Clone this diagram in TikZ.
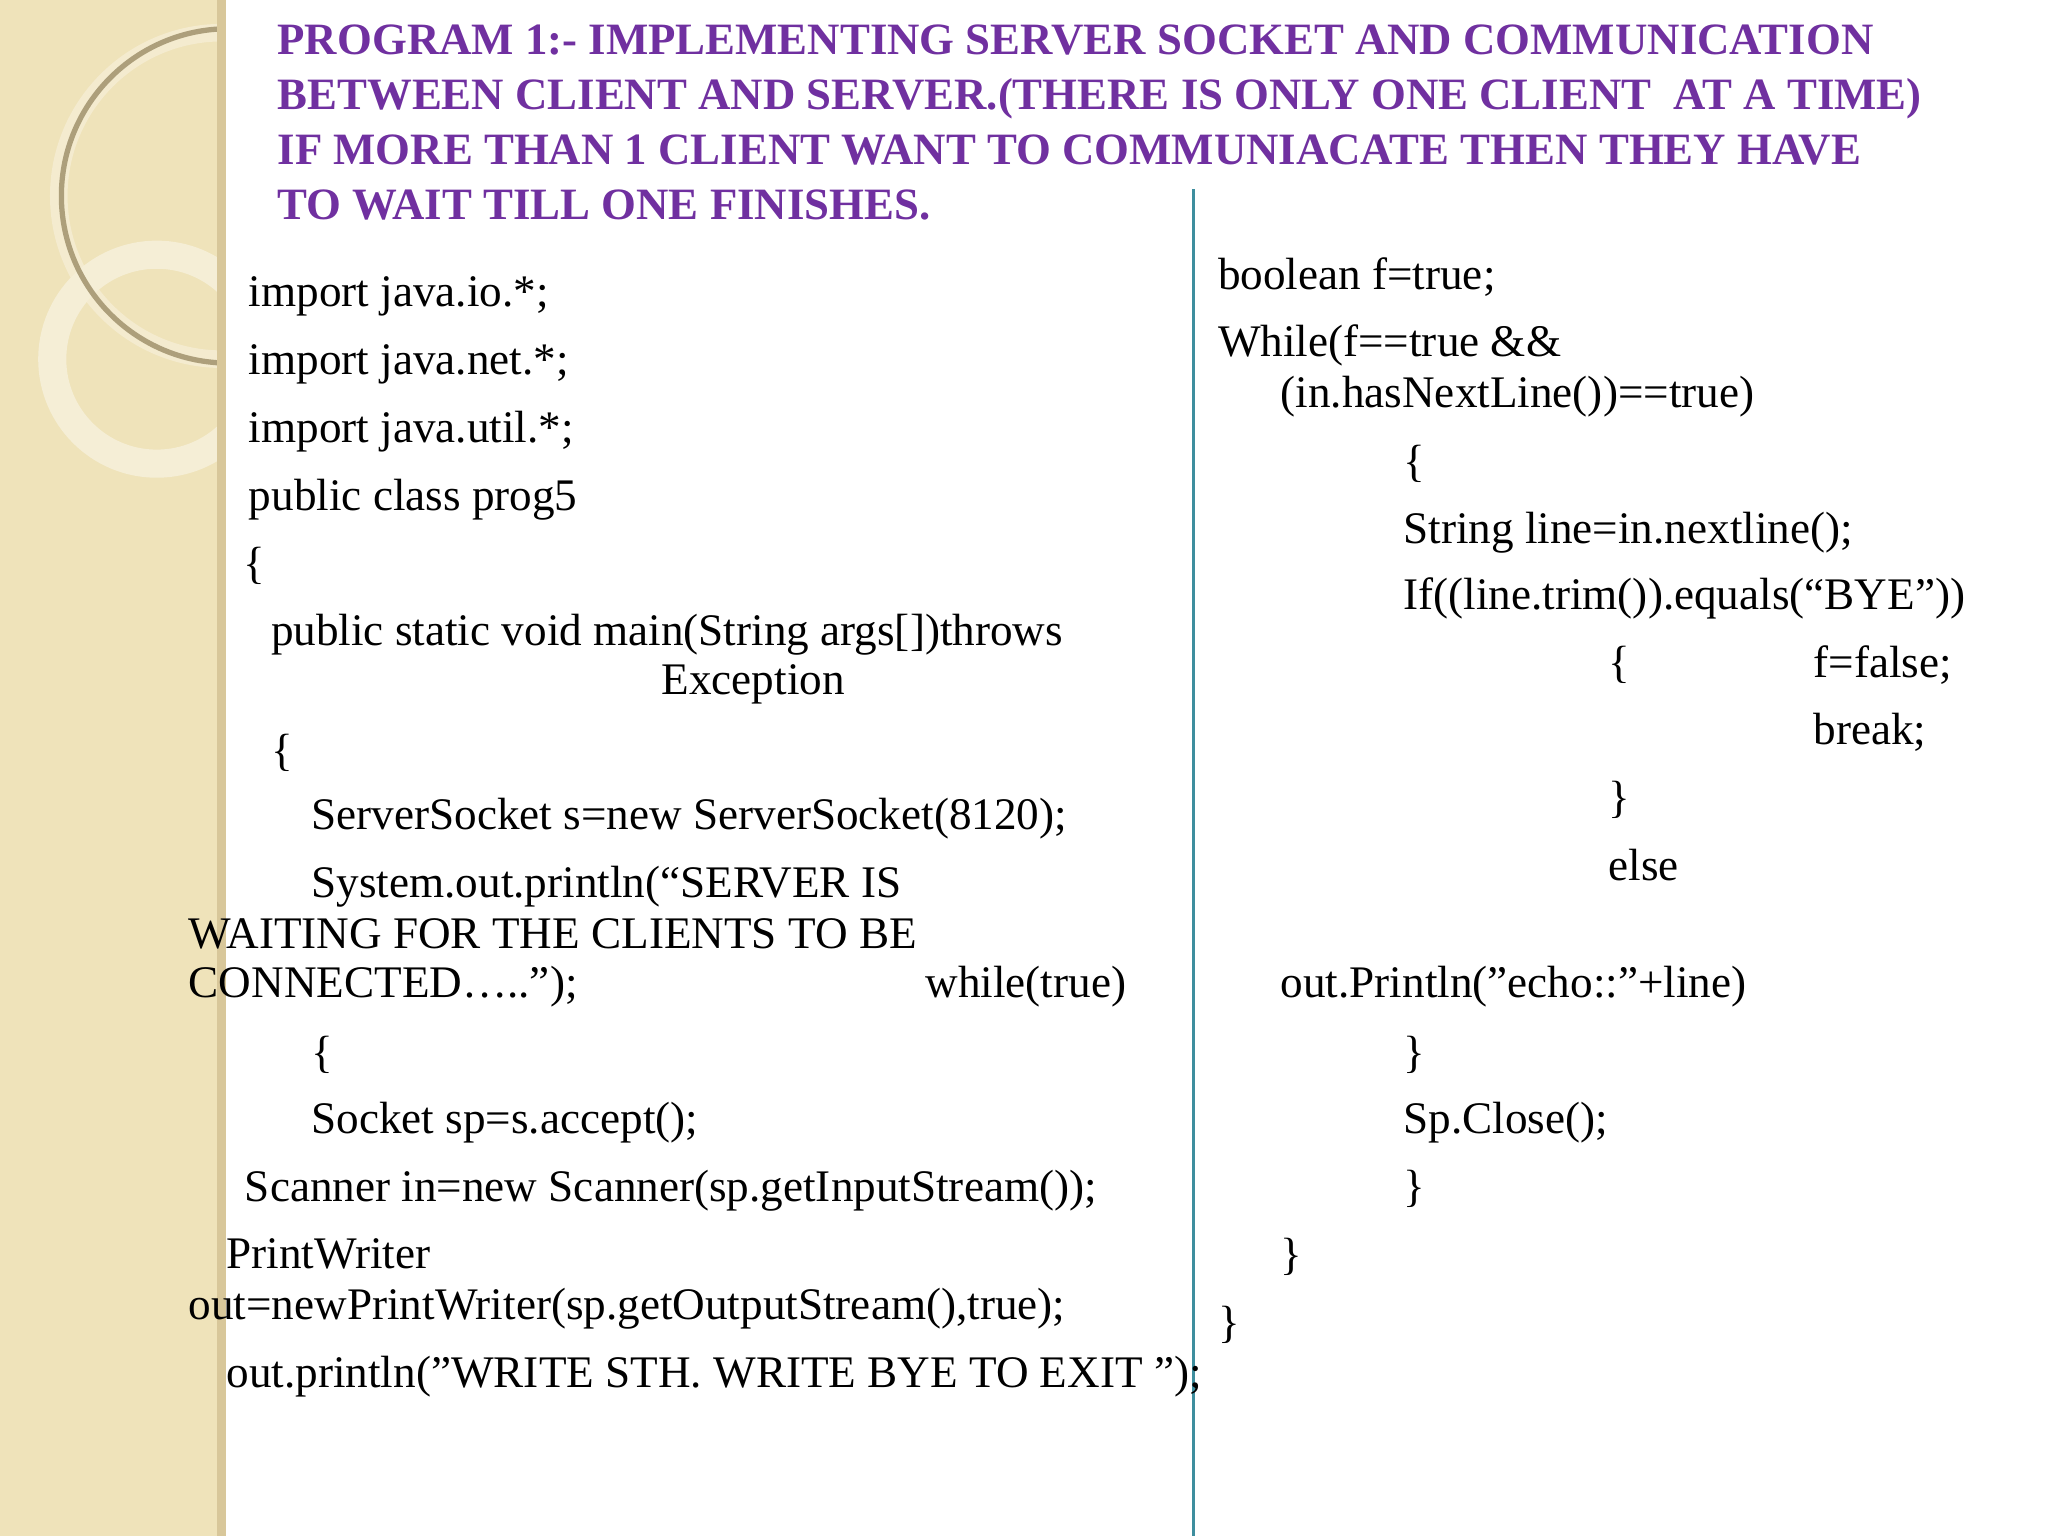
\documentclass[tikz,border=0pt]{standalone}
\usepackage{fontspec}
\setmainfont{Liberation Serif}
\definecolor{ttl}{HTML}{7030A0}
\definecolor{strip}{HTML}{EFE3BA}
\definecolor{stripd}{HTML}{D8C79A}
\definecolor{vline}{HTML}{3E8E9E}
\newcommand\dq{\char34{}}
\tikzset{code/.style={anchor=base west,inner sep=0pt,font=\fontsize{12.85}{14}\selectfont},
 ttlx/.style={anchor=base west,inner sep=0pt,text=ttl,font=\fontsize{12.75}{14}\selectfont\bfseries}}
\begin{document}
\begin{tikzpicture}[x=0.013061cm,y=-0.013061cm]
\useasboundingbox (0,0) rectangle (1568,1176);
\fill[white] (0,0) rectangle (1568,1176);
\fill[strip] (0,0) rectangle (173,1176);
\fill[stripd] (166,0) rectangle (173,1176);
\begin{scope}
\clip (0,0) rectangle (166,1176);
\draw[strip!70!white,line width=5pt] (170,150) circle (125);
\draw[strip!60!white,line width=8pt] (120,275) circle (80);
\draw[stripd!80!black,line width=1.5pt] (175,150) circle (128);
\end{scope}
\draw[vline,line width=0.8pt] (914,145) -- (914,1176);
\node[ttlx] (t1) at (212,42) {PROGRAM 1:- IMPLEMENTING SERVER SOCKET AND COMMUNICATION};
\node[ttlx] (t2) at (212,84) {BETWEEN CLIENT AND SERVER.(THERE IS ONLY ONE CLIENT\ \ AT A TIME)};
\node[ttlx] (t3) at (212,126) {IF MORE THAN 1 CLIENT WANT TO COMMUNIACATE THEN THEY HAVE};
\node[ttlx] (t4) at (212,168) {TO WAIT TILL ONE FINISHES.};
\node[code] (l1) at (190,235) {import java.io.*;};
\node[code] (l2) at (190,287) {import java.net.*;};
\node[code] (l3) at (190,339) {import java.util.*;};
\node[code] (l4) at (190,391) {public class prog5};
\node[code] (l5) at (186,443) {\{};
\node[code] (l6) at (207,494) {public static void main(String args[])throws};
\node[code] (l7) at (506,532) {Exception};
\node[code] (l8) at (207,586) {\{};
\node[code] (l9) at (238,635) {ServerSocket s=new ServerSocket(8120);};
\node[code] (l10) at (238,687) {System.out.println(“SERVER IS};
\node[code] (l11) at (144,726) {WAITING FOR THE CLIENTS TO BE};
\node[code] (l12) at (144,764) {CONNECTED…..”);};
\node[code] (l12b) at (708,764) {while(true)};
\node[code] (l13) at (238,817) {\{};
\node[code] (l14) at (238,868) {Socket sp=s.accept();};
\node[code] (l15) at (187,920) {Scanner in=new Scanner(sp.getInputStream());};
\node[code] (l16) at (173,971) {PrintWriter};
\node[code] (l17) at (144,1010) {out=newPrintWriter(sp.getOutputStream(),true);};
\node[code] (l18) at (173,1062) {out.println(\dq WRITE STH. WRITE BYE TO EXIT \dq);};
\node[code] (r1) at (932,222) {boolean f=true;};
\node[code] (r2) at (932,273) {While(f==true \&\&};
\node[code] (r3) at (980,312) {(in.hasNextLine())==true)};
\node[code] (r4) at (1074,365) {\{};
\node[code] (r5) at (1074,416) {String line=in.nextline();};
\node[code] (r6) at (1074,467) {If((line.trim()).equals(“BYE\dq))};
\node[code] (r7) at (1231,519) {\{};
\node[code] (r7b) at (1388,519) {f=false;};
\node[code] (r8) at (1388,570) {break;};
\node[code] (r9) at (1231,622) {\}};
\node[code] (r10) at (1231,674) {else};
\node[code] (r11) at (980,764) {out.Println(\dq echo::\dq+line)};
\node[code] (r12) at (1074,817) {\}};
\node[code] (r13) at (1074,868) {Sp.Close();};
\node[code] (r14) at (1074,920) {\}};
\node[code] (r15) at (980,972) {\}};
\node[code] (r16) at (932,1024) {\}};
\end{tikzpicture}
\end{document}
